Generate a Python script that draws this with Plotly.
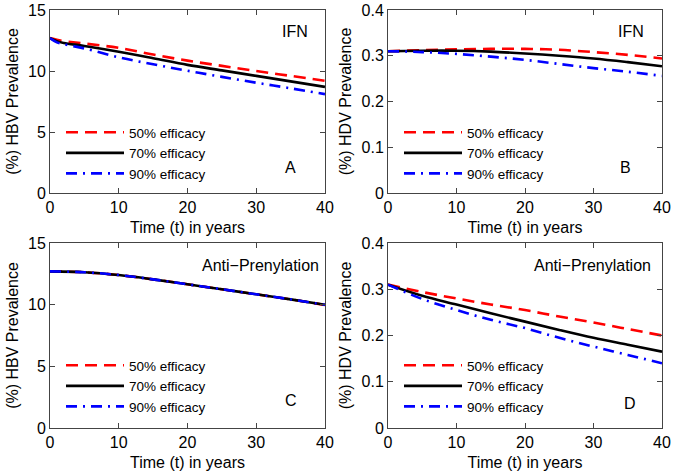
import plotly.graph_objects as go

# time points (years)
t_a = [0, 1, 2, 5, 10, 15, 20, 25, 30, 35, 40]
t = [0, 5, 10, 15, 20, 25, 30, 35, 40]

# A: HBV prevalence under IFN
hbv_ifn_50 = [12.7, 12.55, 12.45, 12.25, 11.9, 11.35, 10.85, 10.42, 10.0, 9.6, 9.2]
hbv_ifn_70 = [12.7, 12.45, 12.3, 12.05, 11.58, 11.05, 10.5, 10.05, 9.6, 9.15, 8.7]
hbv_ifn_90 = [12.7, 12.35, 12.2, 11.85, 11.12, 10.55, 10.02, 9.52, 9.04, 8.58, 8.1]

# B: HDV prevalence under IFN
hdv_ifn_50 = [0.310, 0.312, 0.314, 0.315, 0.315, 0.313, 0.308, 0.302, 0.294]
hdv_ifn_70 = [0.310, 0.311, 0.311, 0.309, 0.305, 0.300, 0.294, 0.286, 0.277]
hdv_ifn_90 = [0.310, 0.308, 0.304, 0.298, 0.291, 0.282, 0.273, 0.265, 0.256]

# C: HBV prevalence under anti-prenylation
hbv_ap_50 = [12.7, 12.63, 12.4, 12.05, 11.65, 11.25, 10.84, 10.43, 9.97]
hbv_ap_70 = [12.7, 12.63, 12.4, 12.05, 11.65, 11.25, 10.84, 10.43, 9.99]
hbv_ap_90 = [12.7, 12.63, 12.4, 12.05, 11.65, 11.25, 10.84, 10.43, 9.99]

# D: HDV prevalence under anti-prenylation
hdv_ap_50 = [0.310, 0.294, 0.280, 0.267, 0.255, 0.241, 0.228, 0.214, 0.200]
hdv_ap_70 = [0.310, 0.286, 0.267, 0.248, 0.230, 0.212, 0.195, 0.180, 0.165]
hdv_ap_90 = [0.310, 0.279, 0.255, 0.234, 0.216, 0.195, 0.176, 0.158, 0.140]

labels = ["50% efficacy", "70% efficacy", "90% efficacy"]
styles = [("red", "12px,7px"), ("black", "solid"), ("blue", "11px,6px,2px,6px")]

W, H = 675, 474
FONT = "Liberation Sans, Arial, sans-serif"

panels = [
    # x, series, axis suffix, legend name, y range, y ticks, y title, treatment, letter
    (t_a, [hbv_ifn_50, hbv_ifn_70, hbv_ifn_90], "", "legend", [0, 15], [0, 5, 10, 15],
     "(%) HBV Prevalence", "IFN", "A"),
    (t, [hdv_ifn_50, hdv_ifn_70, hdv_ifn_90], "2", "legend2", [0, 0.4], [0, 0.1, 0.2, 0.3, 0.4],
     "(%) HDV Prevalence", "IFN", "B"),
    (t, [hbv_ap_50, hbv_ap_70, hbv_ap_90], "3", "legend3", [0, 15], [0, 5, 10, 15],
     "(%) HBV Prevalence", "Anti\u2212Prenylation", "C"),
    (t, [hdv_ap_50, hdv_ap_70, hdv_ap_90], "4", "legend4", [0, 0.4], [0, 0.1, 0.2, 0.3, 0.4],
     "(%) HDV Prevalence", "Anti\u2212Prenylation", "D"),
]

# plot boxes in pixels: left, right, top, bottom
boxes = [(50, 325, 10, 193), (388, 662, 10, 193), (50, 325, 243, 428), (388, 662, 243, 428)]
# label placement in axis-domain fractions: (treatment x, letter x, letter y)
label_pos = [(0.945, 0.873, 0.137), (0.94, 0.867, 0.137), (0.985, 0.876, 0.151), (0.967, 0.883, 0.135)]

fig = go.Figure()
layout = {}
annotations = []

for (x, series, sfx, leg, yr, yt, ytitle, treat, letter), (l, r, tp, bt), (tx, lx, ly) in zip(panels, boxes, label_pos):
    for ys, name, (col, dash) in zip(series, labels, styles):
        fig.add_trace(go.Scatter(
            x=x, y=ys, mode="lines", name=name,
            line=dict(color=col, dash=dash, width=2.6, shape="spline"),
            xaxis="x" + sfx, yaxis="y" + sfx, legend=leg,
        ))
    axis_common = dict(
        showline=True, linecolor="#444", linewidth=1, mirror="ticks",
        ticks="inside", ticklen=5, tickcolor="#444", showgrid=False, zeroline=False,
        tickfont=dict(size=16, color="black", family=FONT), automargin=False,
    )
    layout["xaxis" + sfx] = dict(
        domain=[l / W, r / W], range=[0, 40], tickvals=[0, 10, 20, 30, 40],
        anchor="y" + sfx,
        title=dict(text="Time (t) in years", font=dict(size=16, color="black", family=FONT), standoff=6),
        **axis_common,
    )
    layout["yaxis" + sfx] = dict(
        domain=[1 - bt / H, 1 - tp / H], range=yr, tickvals=yt,
        anchor="x" + sfx,
        title=dict(text=ytitle, font=dict(size=16, color="black", family=FONT), standoff=5),
        **axis_common,
    )
    layout[leg] = dict(
        x=(l + 11) / W, y=1 - (tp + 107) / H, xanchor="left", yanchor="top",
        bgcolor="rgba(0,0,0,0)", borderwidth=0, itemwidth=58,
        font=dict(size=13.5, color="black", family=FONT), tracegroupgap=0,
    )
    annotations.append(dict(
        text=treat, xref="x" + sfx + " domain", yref="y" + sfx + " domain",
        x=tx, y=0.88, xanchor="right", yanchor="middle", showarrow=False,
        font=dict(size=16, color="black", family=FONT),
    ))
    annotations.append(dict(
        text=letter, xref="x" + sfx + " domain", yref="y" + sfx + " domain",
        x=lx, y=ly, xanchor="center", yanchor="middle", showarrow=False,
        font=dict(size=16, color="black", family=FONT),
    ))

fig.update_layout(
    **layout,
    annotations=annotations,
    width=W, height=H,
    margin=dict(l=0, r=0, t=0, b=0, autoexpand=False),
    paper_bgcolor="white", plot_bgcolor="white",
    showlegend=True,
)

# drop the page's default body margin so the figure sits at the window corner
fig.write_html("out.html", config={"displayModeBar": False},
               post_script="document.body.style.margin='0px';")
